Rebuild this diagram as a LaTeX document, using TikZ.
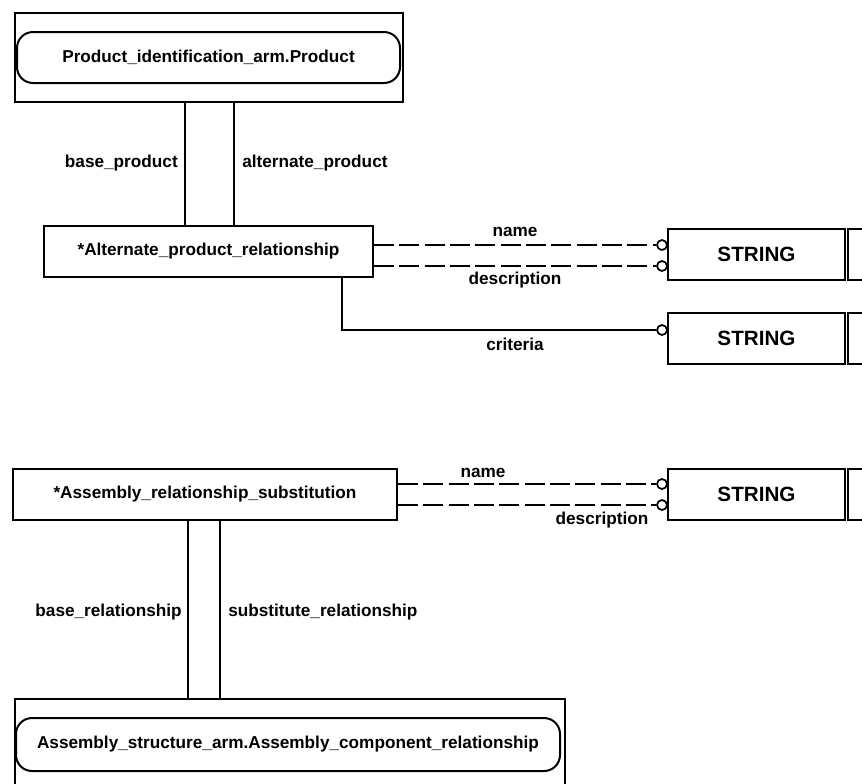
\documentclass[tikz,border=0pt]{standalone}
\usepackage{fontspec}
\setmainfont{Liberation Sans}
\begin{document}
\begin{tikzpicture}[x=0.75pt,y=-0.75pt,
  every node/.style={font=\bfseries\fontsize{12.9}{15}\selectfont, inner sep=0pt},
  entbox/.style={draw, line width=1.5pt, rectangle, minimum height=38.25pt},
  outerbox/.style={draw, line width=1.5pt, rectangle},
  refbox/.style={draw, line width=1.5pt, rectangle, rounded corners=12pt, minimum height=38.25pt},
  strbox/.style={entbox, minimum width=132.75pt, font=\bfseries\fontsize{15.5}{18}\selectfont},
  extbox/.style={entbox, minimum width=22.5pt},
  ring/.style={draw, circle, line width=1.3pt, minimum size=7.5pt, fill=white},
  rel/.style={line width=1.5pt},
  optrel/.style={line width=1.3pt, dash pattern=on 15pt off 4pt},
  lbl/.style={}]
\useasboundingbox (0,0) rectangle (862,783);
\clip (0,0) rectangle (862,783);

% top reference
\node[outerbox, minimum width=291pt, minimum height=66.75pt] (tob) at (209,57.5) {};
\node[refbox, minimum width=287.25pt] (tib) at (208.5,57.5) {Product\_identification\_arm.Product};

% Alternate_product_relationship
\node[entbox, minimum width=246.75pt] (apr) at (208.5,251.5) {*Alternate\_product\_relationship};

\coordinate (xa) at (185,0);
\coordinate (xb) at (234,0);
\draw[rel] (tob.south -| xa) -- (apr.north -| xa);
\draw[rel] (tob.south -| xb) -- (apr.north -| xb);
\node[lbl, anchor=east] (lbp) at (178,163) {base\_product};
\node[lbl, anchor=west] (lap) at (242,163) {alternate\_product};

% STRING boxes right
\node[strbox] (s1) at (756.5,254.5) {STRING};
\node[extbox] (e1) at (863,254.5) {};
\node[strbox] (s2) at (756.5,338.5) {STRING};
\node[extbox] (e2) at (863,338.5) {};

\node[ring] (c1) at (662,245) {};
\node[ring] (c2) at (662,266) {};
\node[ring] (c3) at (662,330) {};

\draw[optrel] (apr.east |- c1) -- (c1.west);
\draw[optrel] (apr.east |- c2) -- (c2.west);
\coordinate (xc) at (342,0);
\draw[rel] (apr.south -| xc) |- (c3.west);

\node[lbl] (lname1) at (515,232) {name};
\node[lbl] (ldesc1) at (515,280) {description};
\node[lbl] (lcrit) at (515,344) {criteria};

% Assembly_relationship_substitution
\node[entbox, minimum width=288pt] (ars) at (205,494.5) {*Assembly\_relationship\_substitution};
\node[strbox] (s3) at (756.5,494.5) {STRING};
\node[extbox] (e3) at (863,494.5) {};
\node[ring] (c4) at (662,484) {};
\node[ring] (c5) at (662,505) {};
\draw[optrel] (ars.east |- c4) -- (c4.west);
\draw[optrel] (ars.east |- c5) -- (c5.west);
\node[lbl] (lname2) at (483,473) {name};
\node[lbl] (ldesc2) at (602,520) {description};

% bottom reference
\node[outerbox, minimum width=412.5pt, minimum height=75.75pt] (bob) at (290,749.5) {};
\node[refbox, minimum width=408pt, minimum height=39.75pt] (bib) at (288,744.5) {Assembly\_structure\_arm.Assembly\_component\_relationship};

\coordinate (xd) at (188,0);
\coordinate (xe) at (220,0);
\draw[rel] (ars.south -| xd) -- (bob.north -| xd);
\draw[rel] (ars.south -| xe) -- (bob.north -| xe);
\node[lbl, anchor=east] (lbr) at (182,612) {base\_relationship};
\node[lbl, anchor=west] (lsr) at (228,612) {substitute\_relationship};
\end{tikzpicture}
\end{document}
